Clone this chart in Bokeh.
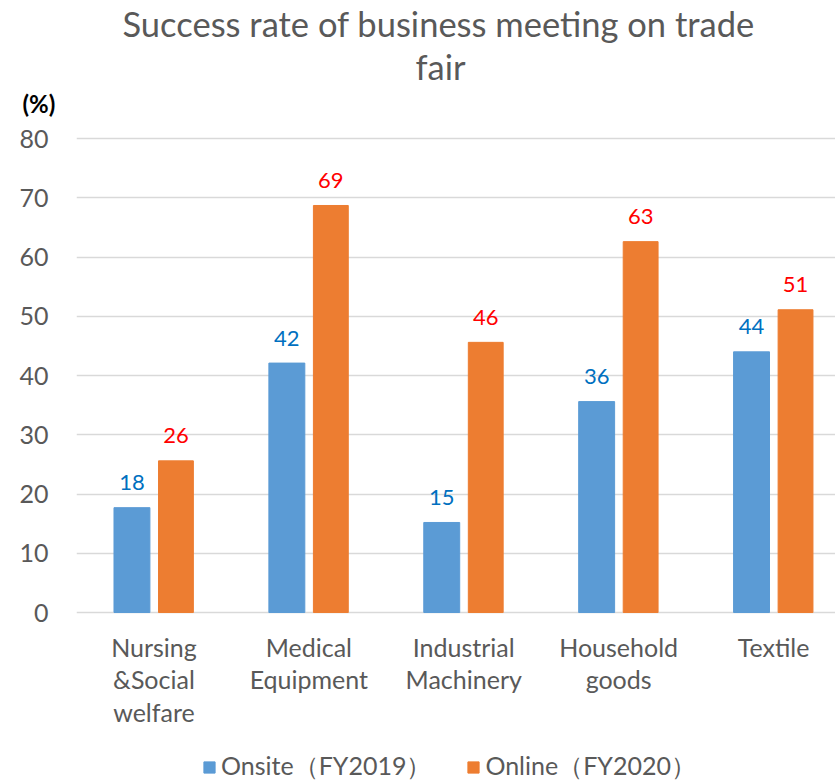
from bokeh.plotting import figure
from bokeh.models import (ColumnDataSource, Range1d, FixedTicker, Title,
                          LabelSet, Legend, LegendItem)
from bokeh.core.properties import value
from bokeh.embed import file_html
from bokeh.resources import INLINE
import numpy as np

categories = ["Nursing\n&Social\nwelfare", "Medical\nEquipment", "Industrial\nMachinery",
              "Household\ngoods", "Textile"]
onsite_fy2019 = [17.7, 42.1, 15.2, 35.6, 44.0]
online_fy2020 = [25.6, 68.7, 45.6, 62.6, 51.1]
y_ticks = [0, 10, 20, 30, 40, 50, 60, 70, 80]
series_names = ["Onsite\uff08FY2019\uff09", "Online\uff08FY2020\uff09"]
title_lines = ["Success rate of business meeting on trade", "fair"]
unit_label = "(%)"

FONT = "Lato"
GREY = "#595959"
BLUE = "#5B9BD5"
ORANGE = "#ED7D31"

centers = np.arange(len(categories)) + 0.5
off = 0.142
src = ColumnDataSource(dict(
    xb=centers - off, xo=centers + off,
    onsite=onsite_fy2019, online=online_fy2020,
    lab_on=["{:.0f}".format(v) for v in onsite_fy2019],
    lab_off=["{:.0f}".format(v) for v in online_fy2020],
))

# one label per line so that each line is centred under its category
lx, ly, lt, lo = [], [], [], []
for c, cat in zip(centers, categories):
    for i, line in enumerate(cat.split("\n")):
        lx.append(c)
        ly.append(0)
        lt.append(line)
        lo.append(-19 - 32.5 * i)
cat_src = ColumnDataSource(dict(x=lx, y=ly, t=lt, yo=lo))

p = figure(width=835, height=780, output_backend="svg", toolbar_location=None,
           x_range=Range1d(0, 4.9), y_range=Range1d(-28.35, 83.55),
           min_border_left=76, min_border_right=0, min_border_top=0,
           min_border_bottom=0)
p.title.visible = False
p.outline_line_color = None
p.background_fill_color = "white"
p.border_fill_color = "white"

r1 = p.vbar(x="xb", top="onsite", width=0.232, source=src,
            fill_color=BLUE, line_color=BLUE)
r2 = p.vbar(x="xo", top="online", width=0.225, source=src,
            fill_color=ORANGE, line_color=ORANGE)

p.add_layout(LabelSet(x="xb", y="onsite", text="lab_on", source=src,
                      text_align="center", text_baseline="middle", y_offset=25,
                      text_font=value(FONT), text_font_size="22px", text_color="#0070C0"))
p.add_layout(LabelSet(x="xo", y="online", text="lab_off", source=src,
                      text_align="center", text_baseline="middle", y_offset=25,
                      text_font=value(FONT), text_font_size="22px", text_color="#FF0000"))

# category labels under the baseline
p.add_layout(LabelSet(x="x", y="y", text="t", source=cat_src, y_offset="yo",
                      text_align="center", text_baseline="top",
                      text_font=value(FONT), text_font_size="25px", text_color=GREY))

# axes
p.xaxis.visible = False
p.yaxis.ticker = FixedTicker(ticks=y_ticks)
p.yaxis.axis_line_color = None
p.yaxis.major_tick_line_color = None
p.yaxis.major_tick_out = 0
p.yaxis.major_tick_in = 0
p.yaxis.minor_tick_line_color = None
p.yaxis.major_label_standoff = 28
p.yaxis.major_label_text_font = FONT
p.yaxis.major_label_text_font_size = "25px"
p.yaxis.major_label_text_color = GREY

p.xgrid.grid_line_color = None
p.ygrid.grid_line_color = "#D9D9D9"
p.ygrid.grid_line_width = 1.5
p.ygrid.ticker = FixedTicker(ticks=y_ticks)

# unit label, then two title lines (stacked upwards)
p.add_layout(Title(text=unit_label, align="left", offset=-54, text_font=FONT,
                   text_font_size="24px", text_font_style="bold",
                   text_color="black", standoff=0), "above")
p.add_layout(Title(text=title_lines[1], align="left", offset=339, text_font=FONT,
                   text_font_size="34.5px", text_font_style="normal",
                   text_color=GREY, standoff=0), "above")
p.add_layout(Title(text=title_lines[0], align="left", offset=46,
                   text_font=FONT, text_font_size="34.5px", text_font_style="normal",
                   text_color=GREY, standoff=0), "above")

legend = Legend(items=[LegendItem(label=series_names[0], renderers=[r1]),
                       LegendItem(label=series_names[1], renderers=[r2])],
                orientation="horizontal", location=(126, -3),
                label_text_font=FONT, label_text_font_size="25px",
                label_text_color=GREY, glyph_width=14, glyph_height=14,
                label_standoff=5, spacing=35, border_line_color=None,
                background_fill_alpha=0, padding=0, margin=0)
p.add_layout(legend, "center")

open("out.html", "w").write(file_html(p, INLINE))
